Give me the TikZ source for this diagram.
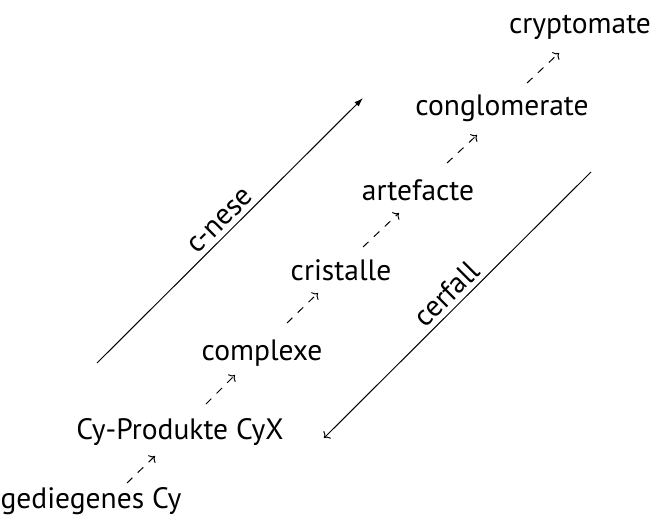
\documentclass[tikz,border=0pt]{standalone}
\usepackage{fontspec}
\setmainfont{PT Sans}
\usetikzlibrary{arrows.meta,calc}
\begin{document}
\begin{tikzpicture}[x=1pt,y=-1pt,
  lbl/.style={inner sep=0pt,anchor=base,font=\fontsize{29.5}{34}\selectfont},
  dar/.style={line width=1pt,dash pattern=on 7.5pt off 7.5pt,-{Computer Modern Rightarrow[scale=1.3]}},
  sar/.style={line width=1pt},
  slbl/.style={font=\fontsize{29.5}{34}\selectfont,inner sep=0pt,midway,sloped,above,yshift=5pt}]
\useasboundingbox (0,0) rectangle (654,525);
\node[lbl] (g) at (91,508) {gediegenes Cy};
\node[lbl] (p) at (180,439) {Cy-Produkte CyX};
\node[lbl] (cx) at (262,360) {complexe};
\node[lbl] (cr) at (341,280) {cristalle};
\node[lbl] (ar) at (418,200) {artefacte};
\node[lbl] (co) at (502,115) {conglomerate};
\node[lbl] (cy) at (580,33) {cryptomate};
\draw[dar] ([shift={(36,-25)}]g.base) -- ([shift={(-25,17)}]p.base);
\draw[dar] ([shift={(26,-35)}]p.base) -- ([shift={(-27,15)}]cx.base);
\draw[dar] ([shift={(25,-37)}]cx.base) -- ([shift={(-23,13)}]cr.base);
\draw[dar] ([shift={(22,-33)}]cr.base) -- ([shift={(-19,13)}]ar.base);
\draw[dar] ([shift={(29,-37)}]ar.base) -- ([shift={(-25,20)}]co.base);
\draw[dar] ([shift={(25,-32)}]co.base) -- ([shift={(-21,20)}]cy.base);
\coordinate (ns) at (97,363);
\coordinate (ne) at (363,98);
\coordinate (fs) at (591,172);
\coordinate (fe) at (324,438);
\draw[sar,-{Latex[length=9pt,width=6pt]}] (ns) -- node[slbl] {c-nese} (ne);
\draw[sar,-{Computer Modern Rightarrow[scale=1.3]}] (fs) -- node[slbl] {cerfall} (fe);
\end{tikzpicture}
\end{document}
